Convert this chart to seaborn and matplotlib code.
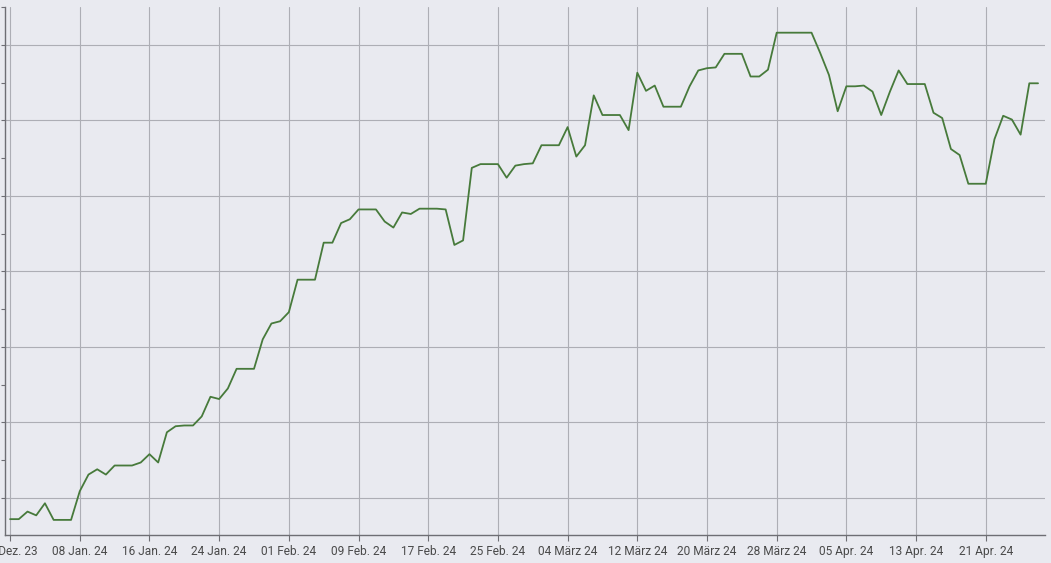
import matplotlib
matplotlib.use("Agg")
from matplotlib import pyplot as plt
from matplotlib.ticker import MultipleLocator, NullFormatter
import seaborn as sns
import numpy as np
import pandas as pd

# daily values, 31 Dec 2023 .. 27 Apr 2024 (y axis unlabeled in the original)
start_date = "2023-12-31"
values = [
    7.2, 7.2, 8.2, 7.7, 9.3, 7.1, 7.1, 7.1, 10.9, 13.1,
    13.8, 13.1, 14.3, 14.3, 14.3, 14.7, 15.8, 14.7, 18.7, 19.5,
    19.6, 19.6, 20.8, 23.4, 23.1, 24.5, 27.1, 27.1, 27.1, 31.0,
    33.1, 33.4, 34.6, 38.9, 38.9, 38.9, 43.8, 43.8, 46.4, 46.9,
    48.2, 48.2, 48.2, 46.6, 45.8, 47.8, 47.6, 48.3, 48.3, 48.3,
    48.2, 43.5, 44.1, 53.7, 54.2, 54.2, 54.2, 52.4, 54.0, 54.2,
    54.3, 56.7, 56.7, 56.7, 59.1, 55.2, 56.7, 63.3, 60.7, 60.7,
    60.7, 58.7, 66.3, 63.9, 64.6, 61.8, 61.8, 61.8, 64.5, 66.6,
    66.9, 67.0, 68.8, 68.8, 68.8, 65.8, 65.8, 66.7, 71.6, 71.6,
    71.6, 71.6, 71.6, 68.9, 66.0, 61.2, 64.5, 64.5, 64.6, 63.8,
    60.7, 63.8, 66.6, 64.8, 64.8, 64.8, 61.0, 60.3, 56.2, 55.4,
    51.6, 51.6, 51.6, 57.5, 60.6, 60.1, 58.1, 64.9, 64.9,
]

tick_labels = [
    "31 Dez. 23", "08 Jan. 24", "16 Jan. 24", "24 Jan. 24", "01 Feb. 24",
    "09 Feb. 24", "17 Feb. 24", "25 Feb. 24", "04 März 24", "12 März 24",
    "20 März 24", "28 März 24", "05 Apr. 24", "13 Apr. 24", "21 Apr. 24",
]

dates = pd.date_range(start_date, periods=len(values), freq="D")
df = pd.DataFrame({"date": dates, "value": values})
tick_dates = pd.date_range(start_date, periods=len(tick_labels), freq="8D")

bg = "#e9eaf0"
grid = "#adaeb5"
sns.set_theme(style="darkgrid", rc={
    "axes.facecolor": bg,
    "figure.facecolor": bg,
    "grid.color": grid,
    "grid.linewidth": 0.8,
    "axes.edgecolor": "#6e6e74",
})
plt.rcParams["font.family"] = ["Roboto", "DejaVu Sans"]

fig = plt.figure(figsize=(10.51, 5.63), dpi=100)
ax = fig.add_axes([5 / 1051, 28 / 563, 1040 / 1051, 528 / 563])

sns.lineplot(data=df, x="date", y="value", ax=ax, color="#477a3b", linewidth=1.3)

day0 = pd.Timestamp(start_date)
ax.set_xlim(day0 - pd.Timedelta(hours=14), day0 + pd.Timedelta(days=118.8))
ax.set_ylim(5.1, 75.0)

ax.set_xticks(tick_dates)
ax.set_xticklabels(tick_labels)
ax.yaxis.set_major_locator(MultipleLocator(10))
ax.yaxis.set_minor_locator(MultipleLocator(5))
ax.yaxis.set_major_formatter(NullFormatter())
ax.grid(True, which="major", axis="both")
ax.grid(False, which="minor")

ax.tick_params(axis="x", which="major", bottom=True, length=4, width=0.8,
               color="#6e6e74", labelsize=8.6, labelcolor="#4a4a4a", pad=3)
ax.tick_params(axis="y", which="both", left=True, length=3, width=0.8,
               color="#6e6e74", labelleft=False)

for side in ["top", "right"]:
    ax.spines[side].set_visible(False)
for side in ["left", "bottom"]:
    ax.spines[side].set_visible(True)
    ax.spines[side].set_linewidth(1.0)

ax.set_xlabel("")
ax.set_ylabel("")

fig.savefig("out.png", dpi=100, facecolor=bg)
